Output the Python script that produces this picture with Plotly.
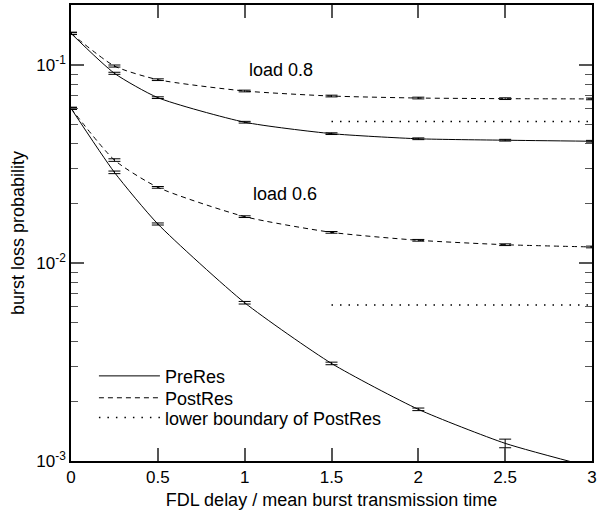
import math
import plotly.graph_objects as go

x = [0, 0.25, 0.5, 1, 1.5, 2, 2.5, 3]

pre_08 = [0.1445, 0.0908, 0.0684, 0.0514, 0.0450, 0.0424, 0.0417, 0.0412]
post_08 = [0.1445, 0.0988, 0.0843, 0.0739, 0.0697, 0.0681, 0.0676, 0.0674]
pre_06 = [0.0604, 0.0287, 0.01574, 0.0063, 0.00311, 0.001824, 0.001228, 0.00093]
post_06 = [0.0604, 0.0331, 0.0241, 0.01714, 0.01428, 0.01302, 0.01237, 0.01205]

err_pre_08 = [0.012, 0.012, 0.010, 0.010, 0.010, 0.010, 0.010, 0.010]
err_post_08 = [0.012, 0.012, 0.010, 0.010, 0.010, 0.010, 0.010, 0.010]
err_pre_06 = [0.012, 0.015, 0.012, 0.015, 0.015, 0.015, 0.05, 0.02]
err_post_06 = [0.012, 0.015, 0.010, 0.010, 0.010, 0.010, 0.010, 0.010]

bound_x = [1.5, 3]
bound_08 = [0.0518, 0.0518]
bound_06 = [0.00614, 0.00614]

y_tickvals = [0.001, 0.01, 0.1]
y_ticktext = ["10<sup>-3</sup>", "10<sup>-2</sup>", "10<sup>-1</sup>"]
x_tickvals = [0, 0.5, 1, 1.5, 2, 2.5, 3]
x_ticktext = ["0", "0.5", "1", "1.5", "2", "2.5", "3"]

labels = [("load 0.8", 1.21, 0.0944), ("load 0.6", 1.23, 0.0222)]

font = "Liberation Sans, Arial, sans-serif"
fig = go.Figure()

def series(y, err, dash, name, show, legend):
    fig.add_trace(go.Scatter(
        x=x, y=y, mode="lines", name=name, showlegend=show, legend=legend,
        line=dict(color="black", width=1, dash=dash, shape="spline", smoothing=0.6),
        error_y=dict(type="data", array=[v * e for v, e in zip(y, err)],
                     color="black", thickness=1, width=6),
    ))

series(pre_08, err_pre_08, "solid", "PreRes", True, "legend")
series(post_08, err_post_08, "5px,4px", "PostRes", True, "legend2")
series(pre_06, err_pre_06, "solid", "PreRes", False, "legend")
series(post_06, err_post_06, "5px,4px", "PostRes", False, "legend2")

for i, b in enumerate([bound_08, bound_06]):
    fig.add_trace(go.Scatter(
        x=bound_x, y=b, mode="lines", name="lower boundary of PostRes",
        showlegend=(i == 0), legend="legend3",
        line=dict(color="black", width=1.5, dash="1.5px,7px"),
    ))

for txt, lx, ly in labels:
    fig.add_annotation(x=lx, y=math.log10(ly), yref="y", xref="x", text=txt, showarrow=False,
                       font=dict(size=18, color="black", family=font))

axis_common = dict(showgrid=False, zeroline=False, showline=True, linecolor="black",
                   linewidth=1.5, mirror="allticks", ticks="inside", tickcolor="#555555",
                   tickwidth=1.5, automargin=False, tickmode="array",
                   tickfont=dict(size=17, color="black", family=font))

fig.update_xaxes(range=[0, 3], tickvals=x_tickvals, ticktext=x_ticktext, ticklen=13,
                 title=dict(text="FDL delay / mean burst transmission time",
                            font=dict(size=18, color="black", family=font), standoff=7),
                 **axis_common)
fig.update_yaxes(type="log", range=[-3, -0.697], tickvals=y_tickvals, ticktext=y_ticktext,
                 ticklen=13,
                 minor=dict(ticks="inside", ticklen=7, tickcolor="#555555", tickwidth=1.2,
                            dtick="D1", showgrid=False),
                 title=dict(text="burst loss probability",
                            font=dict(size=18, color="black", family=font), standoff=7),
                 **axis_common)

leg = dict(xanchor="left", yanchor="middle", bgcolor="rgba(0,0,0,0)",
           font=dict(size=18, family=font, color="black"), itemwidth=61, x=0.044)
fig.update_layout(
    width=597, height=511,
    margin=dict(l=71, r=5, t=5, b=50),
    plot_bgcolor="white", paper_bgcolor="white",
    font=dict(family=font, color="black", size=18),
    legend=dict(y=0.186, **leg),
    legend2=dict(y=0.138, **leg),
    legend3=dict(y=0.0945, **leg),
)

fig.write_html("out.html", config={"displayModeBar": False},
               post_script="document.body.style.margin='0';document.body.style.padding='0';")
